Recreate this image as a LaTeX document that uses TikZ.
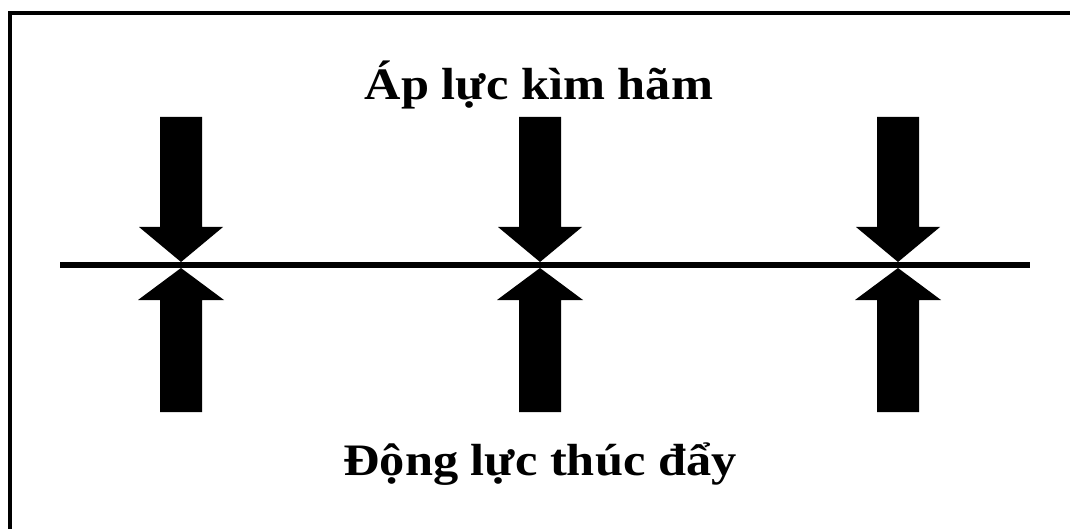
\documentclass[tikz,border=0pt]{standalone}
\usepackage{fontspec}
\setmainfont{Liberation Serif}
\newfontfamily\forcefont[FakeStretch=1.12]{Liberation Serif}
\usetikzlibrary{positioning}
\tikzset{
  forcetext/.style={font=\forcefont\fontsize{45}{52}\selectfont\bfseries,anchor=base,inner sep=0pt},
  forcearrow/.style={fill=black,draw=none},
}
\begin{document}
\begin{tikzpicture}[x=1pt,y=-1pt]
  \useasboundingbox[fill=white] (0,0) rectangle (1070,529);
  % frame, only top and left edges fall inside the page
  \draw[line width=4pt] (1070,13) -- (10,13) -- (10,529);
  \coordinate (lineL) at (60,265);
  \coordinate (lineR) at (1030,265);
  \draw[line width=6pt] (lineL) -- (lineR);
  \foreach \cx in {181,540,898} {
    % restraining force
    \fill[forcearrow] (\cx-21,117) -- (\cx+21,117) -- (\cx+21,227) -- (\cx+42,227)
      -- (\cx,262) -- (\cx-42,227) -- (\cx-21,227) -- cycle;
    % driving force
    \fill[forcearrow] (\cx,268) -- (\cx+43,300) -- (\cx+21,300) -- (\cx+21,412)
      -- (\cx-21,412) -- (\cx-21,300) -- (\cx-43,300) -- cycle;
  }
  \node[forcetext] (top) at (539,100) {Áp lực kìm hãm};
  \node[forcetext] (bottom) at (540,475) {Động lực thúc đẩy};
\end{tikzpicture}
\end{document}
